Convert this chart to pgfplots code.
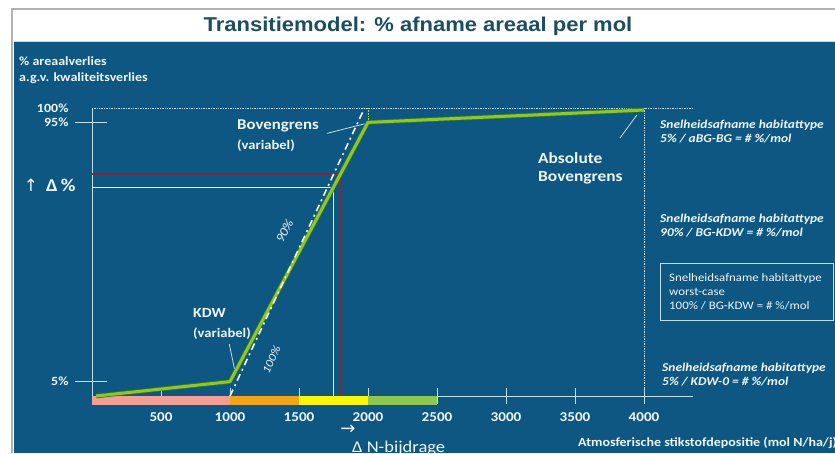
\documentclass[border=0pt]{standalone}
\usepackage{pgfplots}
\pgfplotsset{compat=1.18}
\usepackage{fontspec}
\setmainfont{Carlito}[FakeStretch=1.12]
\newfontfamily\titlefont{Liberation Sans}[FakeStretch=1.1]
\newfontfamily\symfont{DejaVu Sans}
\definecolor{bg}{RGB}{14,87,130}
\definecolor{titlecol}{RGB}{28,78,98}
\definecolor{lgreen}{RGB}{140,200,45}
\definecolor{dgreen}{RGB}{55,115,35}
\definecolor{maroon}{RGB}{125,40,60}
\definecolor{salmon}{RGB}{242,160,150}
\definecolor{orng}{RGB}{243,165,25}
\definecolor{yel}{RGB}{250,245,10}
\definecolor{bgreen}{RGB}{140,200,80}
\definecolor{ltxt}{RGB}{238,245,248}
\definecolor{lline}{RGB}{190,222,232}
\pgfplotstableread{
x y
30 0
1000 5
2000 95
4000 99.3
}\greenline
\begin{document}
\begin{tikzpicture}
\useasboundingbox (0,0) rectangle (835pt,-453pt);
\clip (0,0) rectangle (835pt,-453pt);
\fill[white] (0,0) rectangle (835pt,-453pt);
\fill[bg] (14pt,-41pt) rectangle (835pt,-453pt);
\draw[gray!60, line width=1.2pt] (12pt,-453pt) -- (12pt,-9pt) -- (836pt,-9pt);
\draw[lline, line width=0.8pt] (14pt,-41.5pt) -- (835pt,-41.5pt);
\node[text=titlecol, font=\titlefont\bfseries\fontsize{20}{20}\selectfont] at (418pt,-26pt) {Transitiemodel: \% afname areaal per mol};

\begin{axis}[at={(92pt,-396pt)}, anchor=south west, scale only axis,
  width=552pt, height=288pt, xmin=0, xmax=4000, ymin=0, ymax=100, clip=false,
  axis x line=bottom, axis y line=left, axis line style={-},
  x axis line style={draw=none},
  y axis line style={draw=lline, line width=0.8pt},
  /pgf/number format/assume math mode=true,
  xtick={500,1000,...,4000},
  xticklabels={500,1000,1500,2000,2500,3000,3500,4000},
  ytick={5,95,100}, yticklabels={5\%,95\%,100\%},
  tick align=center, major tick length=16pt,
  xtick style={draw=lline, line width=1pt},
  ytick style={draw=none},
  xticklabel style={font=\bfseries\fontsize{13.5}{13.5}\selectfont, text=ltxt, anchor=north, yshift=-5pt},
  yticklabel style={font=\bfseries\fontsize{12.5}{12.5}\selectfont, text=ltxt, anchor=east, xshift=-12pt},
]
% x axis line
\addplot[lline, line width=0.9pt] coordinates {(0,0) (4355,0)};
% colour bar
\addplot[fill=salmon, draw=none] coordinates {(0,0) (1000,0) (1000,-3.1) (0,-3.1)} -- cycle;
\addplot[fill=orng, draw=none] coordinates {(1000,0) (1500,0) (1500,-3.1) (1000,-3.1)} -- cycle;
\addplot[fill=yel, draw=none] coordinates {(1500,0) (2000,0) (2000,-3.1) (1500,-3.1)} -- cycle;
\addplot[fill=bgreen, draw=none] coordinates {(2000,0) (2500,0) (2500,-3.1) (2000,-3.1)} -- cycle;
% dotted guides
\addplot[lline, densely dotted, line width=0.7pt] coordinates {(0,100) (4355,100)};
\addplot[lline, densely dotted, line width=0.7pt] coordinates {(4000,100) (4000,-2.5)};
\addplot[lgreen!70!lline, densely dotted, line width=0.6pt] coordinates {(2000,100) (2000,95)};
% y tick marks
\addplot[lline, line width=0.8pt] coordinates {(-123,5) (109,5)};
\addplot[lline, line width=0.8pt] coordinates {(-123,95) (109,95)};
% delta lines
\addplot[ltxt, line width=1.1pt] coordinates {(0,72.5) (1750,72.5) (1750,0)};
\addplot[maroon, line width=1.8pt] coordinates {(0,77) (1800,77) (1800,0)};
% transition model line
\addplot[dgreen, line width=4.6pt, line join=round] table {\greenline};
\addplot[lgreen, line width=3pt, line join=round] table {\greenline};
% worst case dash-dot
\addplot[ltxt, line width=1.6pt, dash pattern=on 7pt off 4pt on 2pt off 4pt] coordinates {(1000,0) (1975,100)};
% leader lines
\addplot[lline, line width=0.8pt] coordinates {(1703,91.2) (1975,94.5)};
\addplot[lline, line width=0.8pt] coordinates {(3826,89.6) (3949,97.6)};
\addplot[lline, line width=0.8pt] coordinates {(995,18) (1032,9.5)};
% rotated labels
\node[rotate=62, text=ltxt, font=\itshape\fontsize{12.5}{12.5}\selectfont] at (axis cs:1395,57.3) {90\%};
\node[rotate=65, text=ltxt, font=\itshape\fontsize{11.5}{11.5}\selectfont] at (axis cs:1300,12.5) {100\%};
\end{axis}

\begin{scope}[text=ltxt, inner sep=0pt]
\node[anchor=west, align=left, font=\bfseries\fontsize{12.5}{16}\selectfont] at (19pt,-70pt) {\% areaalverlies\\a.g.v. kwaliteitsverlies};
\node[font=\symfont\fontsize{17}{17}\selectfont] at (31pt,-185pt) {↑};
\node[anchor=west, font=\bfseries\fontsize{18}{18}\selectfont] at (46pt,-185pt) {Δ\,\%};
\node[anchor=west, font=\bfseries\fontsize{15}{15}\selectfont] at (237pt,-126pt) {Bovengrens};
\node[anchor=west, font=\bfseries\fontsize{13}{13}\selectfont] at (237pt,-146pt) {(variabel)};
\node[anchor=west, font=\bfseries\fontsize{15.5}{15.5}\selectfont] at (538pt,-158pt) {Absolute};
\node[anchor=west, font=\bfseries\fontsize{15.5}{15.5}\selectfont] at (538pt,-178pt) {Bovengrens};
\node[anchor=west, font=\bfseries\fontsize{14}{14}\selectfont] at (193pt,-313pt) {KDW};
\node[anchor=west, font=\bfseries\fontsize{13}{13}\selectfont] at (193pt,-334pt) {(variabel)};
\node[anchor=west, align=left, font=\bfseries\itshape\fontsize{12}{14}\selectfont] at (660pt,-132pt) {Snelheidsafname habitattype\\5\% / aBG-BG = \# \%/mol};
\node[anchor=west, align=left, font=\bfseries\itshape\fontsize{12}{14}\selectfont] at (660pt,-225.5pt) {Snelheidsafname habitattype\\90\% / BG-KDW = \# \%/mol};
\draw[lline, line width=0.8pt] (660pt,-263pt) rectangle (833pt,-320pt);
\node[anchor=west, align=left, font=\fontsize{11.5}{14}\selectfont] at (669pt,-292pt) {Snelheidsafname habitattype\\worst-case\\100\% / BG-KDW = \# \%/mol};
\node[anchor=west, align=left, font=\bfseries\itshape\fontsize{12}{14}\selectfont] at (662pt,-375pt) {Snelheidsafname habitattype\\5\% / KDW-0 = \# \%/mol};
\node[font=\symfont\fontsize{18}{18}\selectfont] at (348pt,-430pt) {→};
\node[anchor=base west, font=\fontsize{16.5}{16.5}\selectfont] at (352pt,-452pt) {Δ N-bijdrage};
\node[anchor=base west, font=\bfseries\fontsize{12.5}{12.5}\selectfont] at (578pt,-446pt) {Atmosferische stikstofdepositie (mol N/ha/j)};
\end{scope}
\end{tikzpicture}
\end{document}
